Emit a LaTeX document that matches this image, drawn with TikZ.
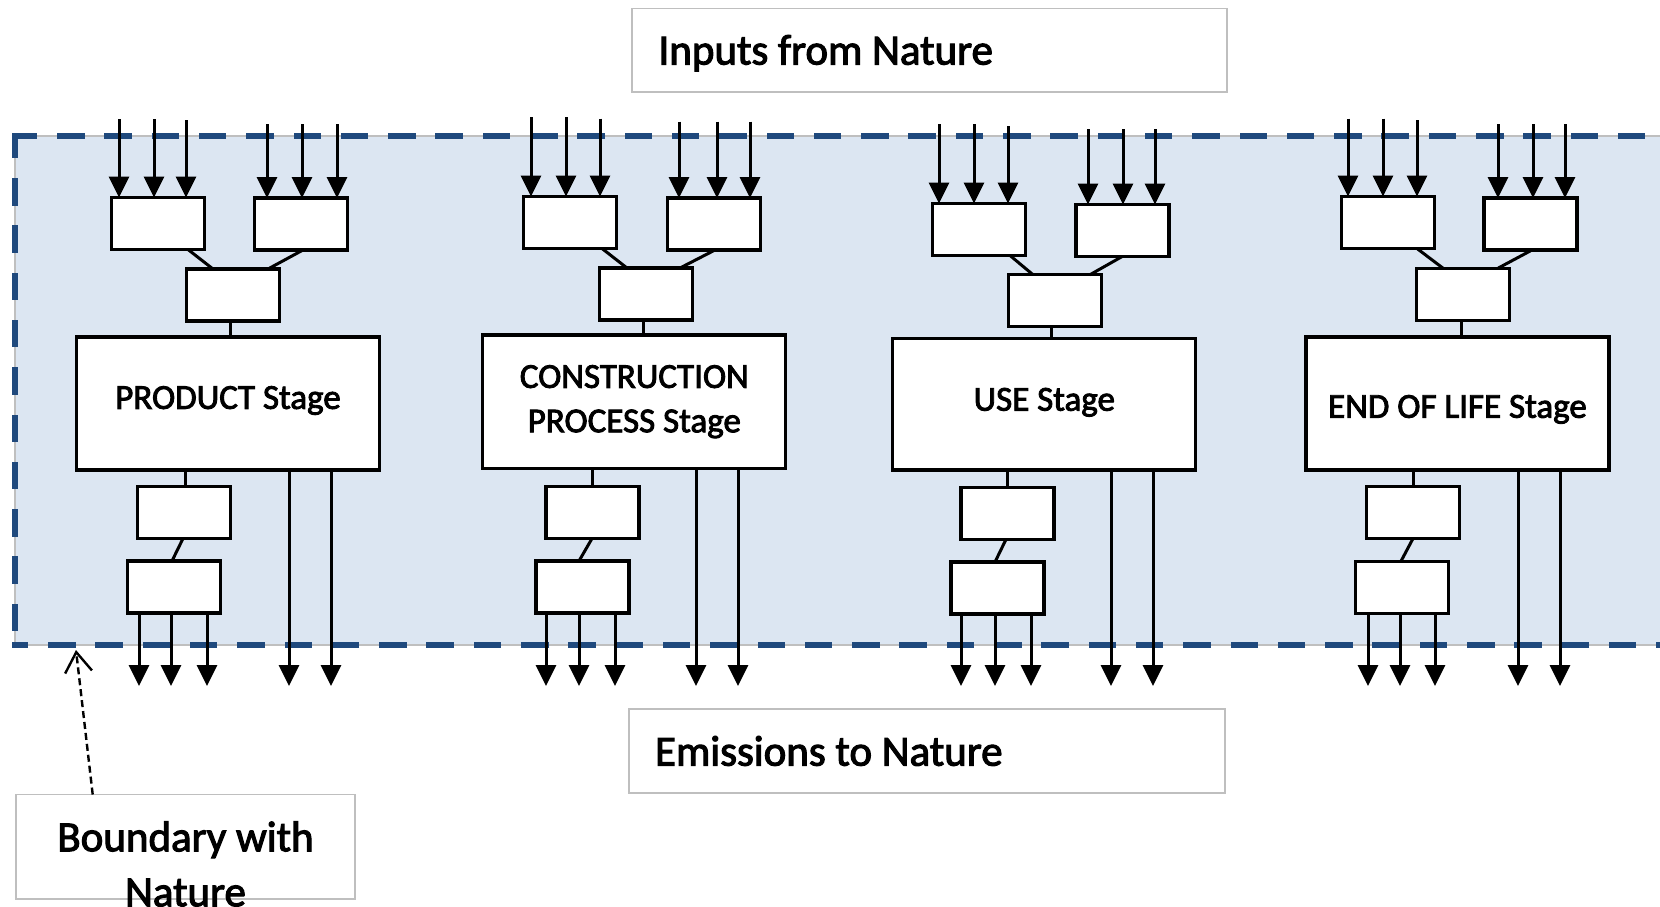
\documentclass[tikz,border=0pt]{standalone}
\usepackage{fontspec}
\setmainfont{Carlito}[FakeBold=2.5]
\usetikzlibrary{arrows.meta}
\definecolor{bndblue}{HTML}{1F497D}
\definecolor{bndfill}{HTML}{DCE6F2}
\definecolor{lblgray}{HTML}{BFBFBF}

% arrows entering a node from free coordinates above it
\newcommand\flowin[3]{%
  \foreach \x/\t [count=\k] in {#3} {%
    \coordinate (#1-#2-i\k) at (\x,\t);
    \draw[flow] (#1-#2-i\k) -- (#1-#2-i\k |- #1-#2.north);
  }}
% arrows leaving a node downwards to free coordinates
\newcommand\flowout[3]{%
  \foreach \x [count=\k] in {#3} {%
    \coordinate (#1-#2-o\k) at (\x,686);
    \draw[flow] (#1-#2-o\k |- #1-#2.south) -- (#1-#2-o\k);
  }}
% keep the font's own interword space inside left-aligned nodes
\newcommand\plainspaces{\spaceskip=0pt\xspaceskip=0pt\relax}
% shift a text line vertically without changing its node's size
\newcommand\nudge[2]{\raisebox{#1}[\height][\depth]{#2}}

\begin{document}
\begin{tikzpicture}[x=1pt,y=-1pt,
  unit/.style={draw=black, fill=white, line width=3.3pt, minimum width=93pt,
    minimum height=52pt, inner sep=0pt, outer sep=0pt},
  stagebox/.style={draw=black, fill=white, line width=3.3pt, minimum width=303pt,
    minimum height=133pt, inner sep=0pt, outer sep=0pt,
    font=\fontsize{35}{44.4}\selectfont, align=center},
  link/.style={line width=3pt},
  flow/.style={line width=3pt, -{Triangle[width=20pt,length=21pt]}},
  lblbox/.style={draw=lblgray, line width=1.5pt, fill=white, outer sep=0pt,
    inner ysep=0pt, font=\fontsize{43}{55}\selectfont},
  bnddash/.style={draw=bndblue, line width=6.5pt, line cap=rect,
    dash pattern=on 21pt off 26.3pt},
  note/.style={line width=2.4pt, dash pattern=on 7pt off 4pt,
    -{Straight Barb[width=27pt,length=20pt]}}
]
\useasboundingbox (0,0) rectangle (1660,907);
\clip (0,0) rectangle (1660,907);

% system boundary
\fill[bndfill, draw=lblgray, line width=1.2pt] (15,136) rectangle (1700,645);
\draw[bnddash, dash phase=2pt] (15,136) -- (1700,136);
\draw[bnddash, dash phase=2pt] (15,136) -- (15,645);
\draw[bnddash, dash phase=11pt] (15,645) -- (1700,645);

% labels
\node[lblbox, minimum height=83.5pt, text width=542pt, align=left,
  inner xsep=26.5pt] (inputs) at (929.5,50.25)
  {\plainspaces\nudge{-3pt}{Inputs from Nature}};
\node[lblbox, minimum height=84pt, text width=544pt, align=left,
  inner xsep=26pt] (emissions) at (927,751)
  {\plainspaces Emissions to Nature};
\node[lblbox, minimum width=339pt, minimum height=104.5pt] (bndbox)
  at (185.5,846.75) {};
\node[font=\fontsize{43}{55}\selectfont, align=center, inner sep=0pt]
  (bndtext) at (185.5,864) {Boundary with\\Nature};
\coordinate (bndtip) at (76,650);
\draw[note] (92.7,0 |- bndbox.north) -- (bndtip);

% ---- PRODUCT stage
\node[unit] (p-a1) at (158,223.5) {};
\node[unit] (p-a2) at (301,224) {};
\node[unit] (p-m) at (233,295) {};
\node[stagebox] (p-s) at (228,403.5) {\nudge{3pt}{PRODUCT Stage}};
\node[unit] (p-b1) at (184,512.5) {};
\node[unit] (p-b2) at (174,587) {};
\flowin{p}{a1}{119/119,154/119,186/120}
\flowin{p}{a2}{267/124,302/124,337/124}
\draw[link] (188,0 |- p-a1.south) -- (213,0 |- p-m.north);
\draw[link] (303,0 |- p-a2.south) -- (268,0 |- p-m.north);
\draw[link] (230,0 |- p-m.south) -- (230,0 |- p-s.north);
\draw[link] (185,0 |- p-s.south) -- (185,0 |- p-b1.north);
\draw[link] (183,0 |- p-b1.south) -- (172,0 |- p-b2.north);
\flowout{p}{b2}{139,171,207}
\flowout{p}{s}{289,331}

% ---- CONSTRUCTION PROCESS stage
\node[unit] (c-a1) at (570,222.5) {};
\node[unit] (c-a2) at (714,224) {};
\node[unit] (c-m) at (646,294) {};
\node[stagebox, minimum height=133.5pt] (c-s) at (634.3,401.7)
  {CONSTRUCTION\\PROCESS Stage};
\node[unit] (c-b1) at (592.5,512.5) {};
\node[unit] (c-b2) at (582.5,587) {};
\flowin{c}{a1}{531/117,566/117,600/118.5}
\flowin{c}{a2}{679/121.5,717/121.5,750/121.5}
\draw[link] (602,0 |- c-a1.south) -- (627,0 |- c-m.north);
\draw[link] (715,0 |- c-a2.south) -- (680,0 |- c-m.north);
\draw[link] (643,0 |- c-m.south) -- (643,0 |- c-s.north);
\draw[link] (592,0 |- c-s.south) -- (592,0 |- c-b1.north);
\draw[link] (592,0 |- c-b1.south) -- (579,0 |- c-b2.north);
\flowout{c}{b2}{546,579,615}
\flowout{c}{s}{696,738}

% ---- USE stage
\node[unit] (u-a1) at (978.7,229.5) {};
\node[unit] (u-a2) at (1122.5,230.6) {};
\node[unit] (u-m) at (1054.7,300.7) {};
\node[stagebox, minimum height=131.4pt] (u-s) at (1044.3,404.3)
  {\nudge{2pt}{USE Stage}};
\node[unit] (u-b1) at (1007.5,513.4) {};
\node[unit] (u-b2) at (997.5,588) {};
\flowin{u}{a1}{939/124,974/124,1008/126}
\flowin{u}{a2}{1088/129,1123/129,1155/129}
\draw[link] (1010,0 |- u-a1.south) -- (1033,0 |- u-m.north);
\draw[link] (1122,0 |- u-a2.south) -- (1090,0 |- u-m.north);
\draw[link] (1051,0 |- u-m.south) -- (1051,0 |- u-s.north);
\draw[link] (1007,0 |- u-s.south) -- (1007,0 |- u-b1.north);
\draw[link] (1006,0 |- u-b1.south) -- (995,0 |- u-b2.north);
\flowout{u}{b2}{961,995,1031}
\flowout{u}{s}{1111,1153}

% ---- END OF LIFE stage
\node[unit] (e-a1) at (1388,222.5) {};
\node[unit] (e-a2) at (1530.5,224) {};
\node[unit] (e-m) at (1463,294.2) {};
\node[stagebox] (e-s) at (1457.5,403.4) {\nudge{-6pt}{END OF LIFE Stage}};
\node[unit] (e-b1) at (1413,512.5) {};
\node[unit] (e-b2) at (1402.3,587.2) {};
\flowin{e}{a1}{1348/118.5,1383/118.5,1417/120}
\flowin{e}{a2}{1498/124,1533/124,1565/124}
\draw[link] (1417,0 |- e-a1.south) -- (1443,0 |- e-m.north);
\draw[link] (1532,0 |- e-a2.south) -- (1498,0 |- e-m.north);
\draw[link] (1461,0 |- e-m.south) -- (1461,0 |- e-s.north);
\draw[link] (1413,0 |- e-s.south) -- (1413,0 |- e-b1.north);
\draw[link] (1413,0 |- e-b1.south) -- (1401,0 |- e-b2.north);
\flowout{e}{b2}{1368,1400,1435}
\flowout{e}{s}{1518,1560}
\end{tikzpicture}
\end{document}
